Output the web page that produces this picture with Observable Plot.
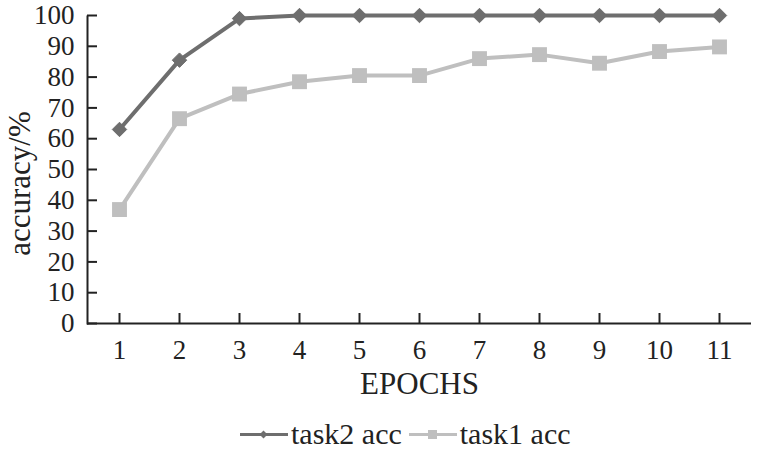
<!DOCTYPE html>
<html>
<head>
<meta charset="utf-8">
<script src="https://cdn.jsdelivr.net/npm/d3@7"></script>
<script src="https://cdn.jsdelivr.net/npm/@observablehq/plot@0.6"></script>
<style>
  html, body { margin: 0; padding: 0; background: #fff; }
  #chart { width: 757px; height: 450px; position: relative; font-family: "Liberation Serif", "Times New Roman", serif; }
  #legend { position: absolute; left: 240px; top: 416px; height: 36px; display: flex; align-items: center; font-size: 30px; line-height: 36px; color: #222; white-space: nowrap; }
  #legend .item { display: flex; align-items: center; margin-right: 7px; height: 36px; }
  #legend span { line-height: 36px; }
  #legend svg { display: block; margin-right: 3px; }
</style>
</head>
<body>
<div id="chart"></div>
<script>
const epochs = [1, 2, 3, 4, 5, 6, 7, 8, 9, 10, 11];
const task2Acc = [63, 85.5, 99, 100, 100, 100, 100, 100, 100, 100, 100];
const task1Acc = [37, 66.5, 74.5, 78.5, 80.5, 80.5, 86, 87.3, 84.5, 88.3, 89.8];
const yTicks = [0, 10, 20, 30, 40, 50, 60, 70, 80, 90, 100];
const seriesNames = ["task2 acc", "task1 acc"];
const seriesColors = ["#6e6e6e", "#bfbfbf"];

const t2 = epochs.map((e, i) => ({epoch: e, acc: task2Acc[i]}));
const t1 = epochs.map((e, i) => ({epoch: e, acc: task1Acc[i]}));

const W = 757, H = 400, mL = 87, mR = 6, mT = 15, mB = 77;
const frameW = W - mL - mR, frameH = H - mT - mB;

const plot = Plot.plot({
  width: W,
  height: H,
  marginLeft: mL,
  marginRight: mR,
  marginTop: mT,
  marginBottom: mB,
  style: {fontFamily: "'Liberation Serif', 'Times New Roman', serif", fontSize: "27px", color: "#222", background: "#fff"},
  x: {type: "point", domain: epochs, padding: 0.5},
  y: {domain: [0, 100]},
  marks: [
    Plot.axisY(yTicks, {tickSize: 0, tickPadding: 13, label: null, fontSize: 27}),
    Plot.axisX(epochs, {tickSize: 0, tickPadding: 16, label: null, fontSize: 27}),
    Plot.ruleY(yTicks, {y: d => d, insetRight: frameW - 10, stroke: "#222", strokeWidth: 2}),
    Plot.ruleX(epochs, {x: d => d, insetTop: frameH - 10, stroke: "#222", strokeWidth: 2}),
    Plot.ruleY([0], {stroke: "#222", strokeWidth: 2}),
    Plot.frame({fill: "#222", stroke: null, insetLeft: -1, insetRight: frameW - 1, insetBottom: -1}),
    Plot.line(t1, {x: "epoch", y: "acc", stroke: seriesColors[1], strokeWidth: 4}),
    Plot.dot(t1, {x: "epoch", y: "acc", symbol: "square", r: 8.4, fill: seriesColors[1], stroke: "none"}),
    Plot.line(t2, {x: "epoch", y: "acc", stroke: seriesColors[0], strokeWidth: 4}),
    Plot.dot(t2, {x: "epoch", y: "acc", symbol: "diamond2", r: 6.5, fill: seriesColors[0], stroke: seriesColors[0], strokeWidth: 1}),
    Plot.text(["EPOCHS"], {frameAnchor: "bottom", dy: 61, fontSize: 31, fill: "#222", lineAnchor: "middle"}),
    Plot.text(["accuracy/%"], {frameAnchor: "left", textAnchor: "middle", lineAnchor: "middle", dx: -67, dy: 14, rotate: -90, fontSize: 31, fill: "#222"})
  ]
});

const chart = document.getElementById("chart");
chart.appendChild(plot);

const legend = document.createElement("div");
legend.id = "legend";
const swatch = (color, kind) => {
  const mark = kind === "diamond"
    ? `<path d="M23.5,12.5 L27.5,16.5 L23.5,20.5 L19.5,16.5 Z" fill="${color}"/>`
    : `<rect x="19" y="12" width="9" height="9" fill="${color}"/>`;
  return `<svg width="48" height="33"><line x1="0" y1="16.5" x2="48" y2="16.5" stroke="${color}" stroke-width="3"/>${mark}</svg>`;
};
legend.innerHTML = seriesNames.map((n, i) =>
  `<div class="item">${swatch(seriesColors[i], i === 0 ? "diamond" : "square")}<span>${n}</span></div>`
).join("");
chart.appendChild(legend);
</script>
</body>
</html>
